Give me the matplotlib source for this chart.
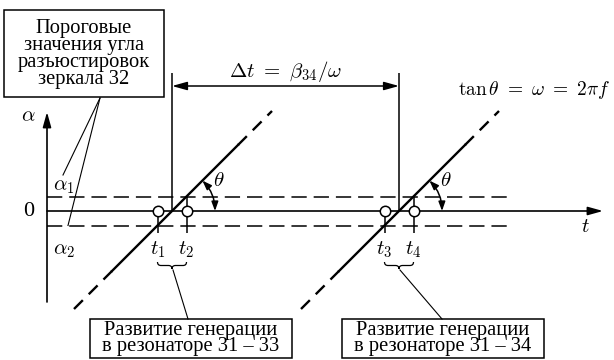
import numpy as np
import matplotlib.pyplot as plt
from matplotlib.patches import Rectangle, PathPatch
from matplotlib.path import Path

plt.rcParams['font.family'] = ['Liberation Serif', 'DejaVu Serif']
plt.rcParams['mathtext.fontset'] = 'cm'
plt.rcParams['lines.scale_dashes'] = False

# пороги разъюстировки зеркала 32 (alpha_1, alpha_2)
alpha_thr = [14.5, -14.5]
# моменты, когда угол проходит через ноль
t_zero = [125, 352]
omega = 1.0
# участки прямой alpha = omega*(t - t0): сплошной и пунктирные концы
alpha_solid = [-60, 66]
alpha_ends = [-98, 100]
t_names = [['$t_1$', '$t_2$'], ['$t_3$', '$t_4$']]
box_texts = ['Развитие генерации\nв резонаторе 31 – 33',
             'Развитие генерации\nв резонаторе 31 – 34']
thr_text = 'Пороговые\nзначения угла\nразъюстировок\nзеркала 32'

fig = plt.figure(figsize=(6.14, 3.6), dpi=100)
ax = fig.add_axes([0, 0, 1, 1])
ax.set_xlim(-47, 567)
ax.set_ylim(-149, 211)
ax.axis('off')

k = 'black'
fs = 14.8    # подписи в рамках
ms_fs = 15   # обозначения на графике

# оси
ax.annotate('', xy=(556, 0), xytext=(0, 0),
            arrowprops=dict(arrowstyle='-|>,head_length=0.9,head_width=0.25',
                            lw=1.2, color=k, shrinkA=0, shrinkB=0))
ax.annotate('', xy=(0, 99), xytext=(0, -91),
            arrowprops=dict(arrowstyle='-|>,head_length=0.9,head_width=0.25',
                            lw=1.2, color=k, shrinkA=0, shrinkB=0))
ax.text(538, -17, '$t$', fontsize=ms_fs, ha='center', va='center')
ax.text(-19, 94, r'$\alpha$', fontsize=ms_fs, ha='center', va='center')
ax.text(-18, -1, '0', fontsize=ms_fs + 1, ha='center', va='center')

# пороговые уровни
ax.hlines(alpha_thr, 0, 465, colors=k, lw=1.1, linestyles=[(0, (11, 5))])
ax.text(17, 24, r'$\alpha_1$', fontsize=ms_fs, ha='center', va='center')
ax.text(17, -39, r'$\alpha_2$', fontsize=ms_fs, ha='center', va='center')


def brace(x0, x1, y, h):
    xm = (x0 + x1) / 2
    verts = [(x0, y), (x0, y - h), (x0 + h, y - h),
             (xm - h, y - h), (xm, y - h), (xm, y - 2 * h),
             (xm, y - h), (xm + h, y - h),
             (x1 - h, y - h), (x1, y - h), (x1, y)]
    codes = [Path.MOVETO, Path.CURVE3, Path.CURVE3,
             Path.LINETO, Path.CURVE3, Path.CURVE3,
             Path.CURVE3, Path.CURVE3,
             Path.LINETO, Path.CURVE3, Path.CURVE3]
    ax.add_patch(PathPatch(Path(verts, codes), fc='none', ec=k, lw=0.9))
    return xm, y - 2 * h


box_left = [43, 295]
box_anchor = [141, 395]
for i, t0 in enumerate(t_zero):
    # прямая угла разъюстировки
    a_s = np.array(alpha_solid)
    ax.plot(t0 + a_s / omega, a_s, color=k, lw=1.7)
    for a0, a1 in [(alpha_ends[0], alpha_solid[0]), (alpha_solid[1], alpha_ends[1])]:
        a = np.array([a0, a1])
        ax.plot(t0 + a / omega, a, color=k, lw=1.7, linestyle=(0, (9, 6)))

    t_lo = t0 + alpha_thr[1] / omega
    t_hi = t0 + alpha_thr[0] / omega
    ax.vlines(t_lo, -22, 0, colors=k, lw=1.1)
    ax.vlines(t_hi, -22, alpha_thr[0], colors=k, lw=1.1)
    ax.plot([t_lo, t_hi], [0, 0], 'o', mfc='white', mec=k, ms=7.5, mew=1.1, zorder=5)
    ax.text(t_lo, -39, t_names[i][0], fontsize=ms_fs, ha='center', va='center')
    ax.text(t_hi, -39, t_names[i][1], fontsize=ms_fs, ha='center', va='center')

    # угол theta
    r = 43
    ax.annotate('', xy=(t0 + r * np.cos(np.pi / 4), r * np.sin(np.pi / 4)),
                xytext=(t0 + r, 0),
                arrowprops=dict(arrowstyle='<|-|>,head_length=0.55,head_width=0.2',
                                lw=1.1, color=k, shrinkA=0, shrinkB=0,
                                connectionstyle='arc3,rad=0.2'))
    ax.text(t0 + 47, 29, r'$\theta$', fontsize=ms_fs, ha='center', va='center')

    # фигурная скобка и выноска к подписи
    xm, ytip = brace(t_lo, t_hi, -51, 3.5)
    ax.plot([xm + 1, box_anchor[i]], [ytip - 1, -108], color=k, lw=0.8)
    ax.add_patch(Rectangle((box_left[i], -147), 202, 39, fc='white', ec=k, lw=1.1))
    ax.text(box_left[i] + 101, -127.5, box_texts[i], fontsize=fs, ha='center',
            va='center', linespacing=0.84)

# интервал между резонаторами
ax.vlines(t_zero, 0, 138, colors=k, lw=1.1)
ax.annotate('', xy=(t_zero[1], 125), xytext=(t_zero[0], 125),
            arrowprops=dict(arrowstyle='<|-|>,head_length=0.9,head_width=0.25',
                            lw=1.1, color=k, shrinkA=0, shrinkB=0))
ax.text((t_zero[0] + t_zero[1]) / 2, 140, r'$\Delta t\ =\ \beta_{34}/\omega$',
        fontsize=ms_fs, ha='center', va='center')
ax.text(563, 121, r'$\tan\theta\ =\ \omega\ =\ 2\pi f$', fontsize=ms_fs - 1,
        ha='right', va='center')

# подпись порогов
ax.add_patch(Rectangle((-43, 114), 160, 87, fc='white', ec=k, lw=1.1))
ax.text(37, 157, thr_text, fontsize=fs, ha='center', va='center', linespacing=0.86)
ax.plot([53, 16], [113, 36], color=k, lw=0.8)
ax.plot([53, 21], [113, alpha_thr[1]], color=k, lw=0.8)

fig.savefig('out.png', dpi=100)
